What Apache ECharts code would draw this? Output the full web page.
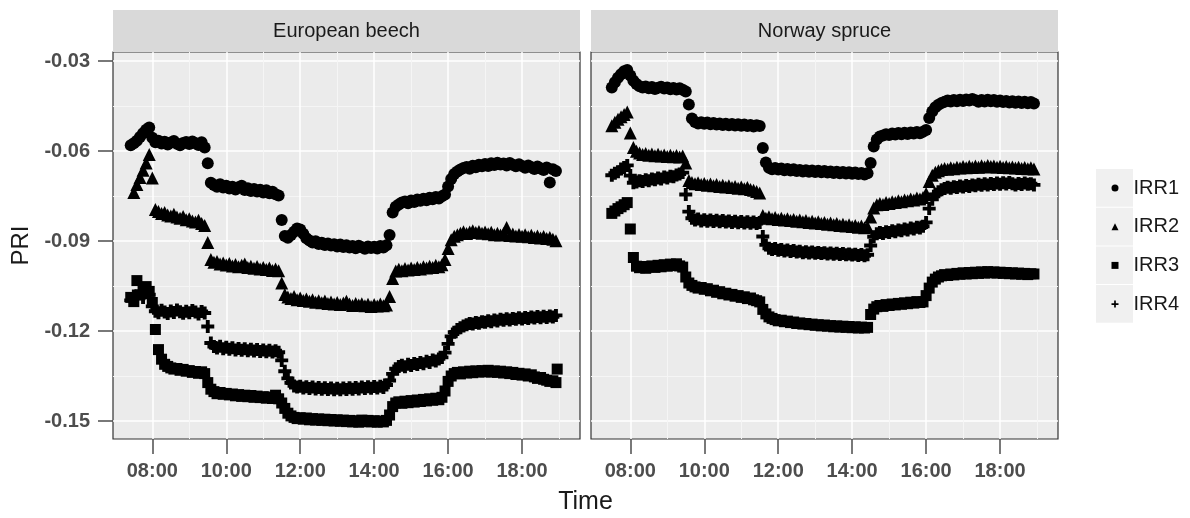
<!DOCTYPE html>
<html>
<head>
<meta charset="utf-8">
<script src="https://cdn.jsdelivr.net/npm/echarts@6/dist/echarts.min.js"></script>
<style>
  html, body { margin: 0; padding: 0; background: #ffffff; }
  #chart { width: 1190px; height: 518px; }
</style>
</head>
<body>
<div id="chart"></div>
<script>
// PRI readings sampled every 5 minutes from 07:25 to 18:55 (one row per hour).
const sampleStartHours = 7 + 25 / 60;
const sampleStepHours = 5 / 60;

const panels = ['European beech', 'Norway spruce'];
const seriesNames = ['IRR1', 'IRR2', 'IRR3', 'IRR4'];
const hourTicks = [8, 10, 12, 14, 16, 18];
const hourMinorTicks = [9, 11, 13, 15, 17, 19];
const priTicks = [-0.15, -0.12, -0.09, -0.06, -0.03];
const priMinorTicks = [-0.135, -0.105, -0.075, -0.045];

// European beech
const beechIRR1 = [
  -0.0581, -0.0574, -0.0566, -0.0553, -0.0541, -0.0529, -0.0522,
  -0.0556, -0.0571, -0.0566, -0.0575, -0.0569, -0.0578, -0.0572, -0.0567, -0.0576, -0.0581, -0.0573, -0.0570,
  -0.0577, -0.0568, -0.0574, -0.0580, -0.0571, -0.0588, -0.0641, -0.0706, -0.0713, -0.0719, -0.0711, -0.0722,
  -0.0716, -0.0725, -0.0719, -0.0728, -0.0721, -0.0716, -0.0730, -0.0724, -0.0733, -0.0727, -0.0735, -0.0729,
  -0.0738, -0.0731, -0.0741, -0.0736, -0.0744, -0.0748, -0.0830, -0.0883, -0.0889, -0.0880, -0.0869, -0.0858,
  -0.0862, -0.0876, -0.0891, -0.0898, -0.0905, -0.0901, -0.0910, -0.0906, -0.0913, -0.0908, -0.0915, -0.0911,
  -0.0918, -0.0912, -0.0920, -0.0914, -0.0922, -0.0917, -0.0924, -0.0916, -0.0921, -0.0926, -0.0918, -0.0923,
  -0.0919, -0.0925, -0.0917, -0.0922, -0.0914, -0.0880, -0.0805, -0.0786, -0.0778, -0.0772, -0.0768, -0.0774,
  -0.0765, -0.0770, -0.0762, -0.0766, -0.0759, -0.0764, -0.0756, -0.0761, -0.0753, -0.0758, -0.0751, -0.0745,
  -0.0718, -0.0693, -0.0677, -0.0668, -0.0662, -0.0657, -0.0653, -0.0659, -0.0649, -0.0654, -0.0646, -0.0651,
  -0.0643, -0.0650, -0.0641, -0.0647, -0.0639, -0.0645, -0.0642, -0.0648, -0.0640, -0.0646, -0.0651, -0.0644,
  -0.0650, -0.0656, -0.0648, -0.0654, -0.0660, -0.0652, -0.0658, -0.0663, -0.0655, -0.0705, -0.0661, -0.0667
];
const beechIRR2 = [
  null, -0.0738, -0.0712, -0.0688, -0.0664, -0.0640, -0.0612,
  -0.0690, -0.0795, -0.0802, -0.0808, -0.0805, -0.0813, -0.0817, -0.0811, -0.0820, -0.0824, -0.0818, -0.0829,
  -0.0826, -0.0833, -0.0837, -0.0831, -0.0842, -0.0848, -0.0905, -0.0962, -0.0971, -0.0968, -0.0977, -0.0973,
  -0.0980, -0.0975, -0.0983, -0.0978, -0.0986, -0.0981, -0.0977, -0.0988, -0.0984, -0.0991, -0.0985, -0.0993,
  -0.0988, -0.0995, -0.0990, -0.0998, -0.0993, -0.0999, -0.1040, -0.1078, -0.1087, -0.1092, -0.1085, -0.1096,
  -0.1090, -0.1098, -0.1093, -0.1101, -0.1096, -0.1104, -0.1099, -0.1106, -0.1100, -0.1108, -0.1103, -0.1110,
  -0.1105, -0.1112, -0.1107, -0.1101, -0.1110, -0.1115, -0.1108, -0.1113, -0.1109, -0.1116, -0.1111, -0.1118,
  -0.1112, -0.1117, -0.1110, -0.1116, -0.1113, -0.1085, -0.1025, -0.1000, -0.0994, -0.0999, -0.0992, -0.0997,
  -0.0990, -0.0995, -0.0988, -0.0993, -0.0986, -0.0990, -0.0984, -0.0988, -0.0981, -0.0986, -0.0979, -0.0962,
  -0.0925, -0.0896, -0.0884, -0.0879, -0.0874, -0.0869, -0.0875, -0.0870, -0.0866, -0.0872, -0.0868, -0.0874,
  -0.0870, -0.0876, -0.0871, -0.0879, -0.0874, -0.0880, -0.0875, -0.0855, -0.0882, -0.0877, -0.0883, -0.0878,
  -0.0884, -0.0879, -0.0886, -0.0881, -0.0888, -0.0883, -0.0890, -0.0885, -0.0892, -0.0888, -0.0894, -0.0899
];
const beechIRR3 = [
  -0.1088, -0.1102, -0.1032, -0.1079, -0.1061, -0.1052, -0.1068,
  -0.1105, -0.1195, -0.1262, -0.1294, -0.1311, -0.1318, -0.1323, -0.1327, -0.1325, -0.1331, -0.1328, -0.1334,
  -0.1332, -0.1338, -0.1335, -0.1341, -0.1336, -0.1342, -0.1372, -0.1394, -0.1402, -0.1409, -0.1405, -0.1411,
  -0.1408, -0.1413, -0.1410, -0.1416, -0.1412, -0.1418, -0.1414, -0.1419, -0.1415, -0.1421, -0.1417, -0.1422,
  -0.1419, -0.1424, -0.1420, -0.1425, -0.1414, -0.1426, -0.1440, -0.1458, -0.1474, -0.1483, -0.1488, -0.1492,
  -0.1489, -0.1494, -0.1490, -0.1496, -0.1492, -0.1497, -0.1493, -0.1498, -0.1494, -0.1499, -0.1495, -0.1500,
  -0.1496, -0.1501, -0.1497, -0.1502, -0.1498, -0.1503, -0.1499, -0.1504, -0.1497, -0.1502, -0.1498, -0.1503,
  -0.1499, -0.1504, -0.1500, -0.1503, -0.1498, -0.1480, -0.1452, -0.1440, -0.1436, -0.1441, -0.1434, -0.1439,
  -0.1432, -0.1437, -0.1430, -0.1435, -0.1428, -0.1433, -0.1426, -0.1431, -0.1424, -0.1429, -0.1421, -0.1400,
  -0.1368, -0.1350, -0.1342, -0.1338, -0.1343, -0.1336, -0.1340, -0.1334, -0.1339, -0.1333, -0.1337, -0.1332,
  -0.1336, -0.1331, -0.1337, -0.1333, -0.1338, -0.1334, -0.1340, -0.1336, -0.1342, -0.1338, -0.1345, -0.1341,
  -0.1347, -0.1343, -0.1350, -0.1346, -0.1353, -0.1358, -0.1355, -0.1361, -0.1364, -0.1368, -0.1366, -0.1372
];
const beechIRR3Extra = [[18.95, -0.1327]];
const beechIRR4 = [
  -0.1098, -0.1083, -0.1092, -0.1071, -0.1088, -0.1066, -0.1079,
  -0.1118, -0.1134, -0.1139, -0.1131, -0.1137, -0.1142, -0.1133, -0.1138, -0.1130, -0.1136, -0.1141, -0.1134,
  -0.1139, -0.1132, -0.1137, -0.1143, -0.1135, -0.1140, -0.1185, -0.1240, -0.1252, -0.1257, -0.1251, -0.1259,
  -0.1254, -0.1261, -0.1256, -0.1263, -0.1258, -0.1264, -0.1259, -0.1266, -0.1261, -0.1267, -0.1262, -0.1268,
  -0.1263, -0.1269, -0.1264, -0.1270, -0.1266, -0.1271, -0.1298, -0.1334, -0.1358, -0.1373, -0.1383, -0.1387,
  -0.1384, -0.1390, -0.1386, -0.1392, -0.1387, -0.1393, -0.1388, -0.1394, -0.1389, -0.1395, -0.1390, -0.1396,
  -0.1391, -0.1396, -0.1390, -0.1395, -0.1389, -0.1394, -0.1388, -0.1393, -0.1387, -0.1392, -0.1386, -0.1391,
  -0.1385, -0.1390, -0.1384, -0.1388, -0.1380, -0.1365, -0.1343, -0.1326, -0.1318, -0.1314, -0.1319, -0.1311,
  -0.1315, -0.1308, -0.1312, -0.1305, -0.1309, -0.1301, -0.1305, -0.1297, -0.1300, -0.1293, -0.1288, -0.1272,
  -0.1243, -0.1218, -0.1204, -0.1195, -0.1189, -0.1183, -0.1179, -0.1175, -0.1177, -0.1172, -0.1174, -0.1169,
  -0.1171, -0.1166, -0.1169, -0.1163, -0.1167, -0.1161, -0.1164, -0.1159, -0.1163, -0.1158, -0.1161, -0.1156,
  -0.1160, -0.1155, -0.1158, -0.1153, -0.1157, -0.1152, -0.1156, -0.1151, -0.1155, -0.1150, -0.1153, -0.1148
];

// Norway spruce
const spruceIRR1 = [
  null, -0.0388, -0.0371, -0.0356, -0.0344, -0.0334, -0.0330,
  -0.0348, -0.0366, -0.0377, -0.0384, -0.0388, -0.0385, -0.0391, -0.0387, -0.0393, -0.0389, -0.0386, -0.0392,
  -0.0388, -0.0394, -0.0390, -0.0395, -0.0391, -0.0396, -0.0402, -0.0445, -0.0492, -0.0503, -0.0508, -0.0504,
  -0.0509, -0.0505, -0.0511, -0.0507, -0.0512, -0.0508, -0.0513, -0.0509, -0.0514, -0.0510, -0.0515, -0.0511,
  -0.0516, -0.0512, -0.0517, -0.0513, -0.0518, -0.0514, -0.0517, -0.0590, -0.0638, -0.0656, -0.0661, -0.0657,
  -0.0662, -0.0658, -0.0664, -0.0660, -0.0665, -0.0661, -0.0667, -0.0663, -0.0668, -0.0664, -0.0669, -0.0665,
  -0.0670, -0.0666, -0.0671, -0.0667, -0.0672, -0.0668, -0.0673, -0.0669, -0.0674, -0.0670, -0.0675, -0.0671,
  -0.0676, -0.0672, -0.0677, -0.0673, -0.0678, -0.0674, -0.0640, -0.0585, -0.0562, -0.0552, -0.0548, -0.0544,
  -0.0547, -0.0542, -0.0545, -0.0540, -0.0544, -0.0539, -0.0543, -0.0538, -0.0542, -0.0537, -0.0541, -0.0536,
  -0.0530, -0.0490, -0.0468, -0.0454, -0.0446, -0.0440, -0.0436, -0.0432, -0.0435, -0.0430, -0.0434, -0.0429,
  -0.0433, -0.0428, -0.0432, -0.0427, -0.0431, -0.0436, -0.0430, -0.0435, -0.0429, -0.0434, -0.0430, -0.0436,
  -0.0432, -0.0437, -0.0433, -0.0438, -0.0434, -0.0439, -0.0435, -0.0440, -0.0436, -0.0441, -0.0437, -0.0442
];
const spruceIRR2 = [
  null, -0.0516, -0.0504, -0.0494, -0.0486, -0.0478, -0.0470,
  -0.0540, -0.0588, -0.0601, -0.0607, -0.0612, -0.0608, -0.0614, -0.0610, -0.0616, -0.0611, -0.0617, -0.0613,
  -0.0618, -0.0614, -0.0619, -0.0615, -0.0620, -0.0617, -0.0640, -0.0698, -0.0705, -0.0709, -0.0706, -0.0712,
  -0.0708, -0.0714, -0.0710, -0.0716, -0.0712, -0.0718, -0.0714, -0.0720, -0.0716, -0.0722, -0.0718, -0.0724,
  -0.0720, -0.0726, -0.0722, -0.0728, -0.0731, -0.0735, -0.0740, -0.0815, -0.0824, -0.0819, -0.0826, -0.0822,
  -0.0828, -0.0824, -0.0830, -0.0826, -0.0832, -0.0828, -0.0834, -0.0830, -0.0836, -0.0832, -0.0838, -0.0834,
  -0.0840, -0.0836, -0.0842, -0.0838, -0.0844, -0.0840, -0.0846, -0.0842, -0.0848, -0.0844, -0.0850, -0.0846,
  -0.0852, -0.0848, -0.0854, -0.0850, -0.0856, -0.0853, -0.0820, -0.0790, -0.0779, -0.0775, -0.0778, -0.0772,
  -0.0775, -0.0769, -0.0772, -0.0766, -0.0769, -0.0763, -0.0766, -0.0760, -0.0763, -0.0757, -0.0760, -0.0755,
  -0.0742, -0.0702, -0.0681, -0.0671, -0.0666, -0.0662, -0.0658, -0.0661, -0.0656, -0.0659, -0.0654, -0.0657,
  -0.0652, -0.0656, -0.0651, -0.0655, -0.0650, -0.0654, -0.0649, -0.0653, -0.0648, -0.0652, -0.0650, -0.0654,
  -0.0651, -0.0655, -0.0652, -0.0656, -0.0653, -0.0657, -0.0654, -0.0658, -0.0655, -0.0659, -0.0656, -0.0660
];
const spruceIRR3 = [
  null, -0.0808, -0.0800, -0.0792, -0.0786, -0.0779, -0.0772,
  -0.0860, -0.0955, -0.0984, -0.0989, -0.0985, -0.0991, -0.0986, -0.0983, -0.0988, -0.0981, -0.0986, -0.0979,
  -0.0984, -0.0977, -0.0982, -0.0976, -0.0983, -0.0987, -0.1020, -0.1040, -0.1048, -0.1053, -0.1057, -0.1055,
  -0.1061, -0.1059, -0.1066, -0.1064, -0.1071, -0.1069, -0.1076, -0.1074, -0.1080, -0.1078, -0.1084, -0.1082,
  -0.1088, -0.1086, -0.1092, -0.1090, -0.1096, -0.1099, -0.1103, -0.1128, -0.1143, -0.1153, -0.1158, -0.1162,
  -0.1166, -0.1164, -0.1169, -0.1167, -0.1172, -0.1170, -0.1175, -0.1173, -0.1177, -0.1175, -0.1179, -0.1177,
  -0.1181, -0.1179, -0.1183, -0.1180, -0.1184, -0.1182, -0.1186, -0.1183, -0.1187, -0.1184, -0.1188, -0.1185,
  -0.1189, -0.1186, -0.1190, -0.1187, -0.1190, -0.1188, -0.1145, -0.1127, -0.1119, -0.1115, -0.1118, -0.1112,
  -0.1115, -0.1110, -0.1113, -0.1108, -0.1111, -0.1106, -0.1109, -0.1104, -0.1107, -0.1102, -0.1105, -0.1103,
  -0.1082, -0.1057, -0.1037, -0.1027, -0.1020, -0.1016, -0.1012, -0.1015, -0.1010, -0.1013, -0.1008, -0.1011,
  -0.1006, -0.1010, -0.1005, -0.1009, -0.1004, -0.1008, -0.1003, -0.1007, -0.1002, -0.1006, -0.1003, -0.1007,
  -0.1004, -0.1008, -0.1005, -0.1009, -0.1006, -0.1010, -0.1007, -0.1011, -0.1008, -0.1012, -0.1009, -0.1010
];
const spruceIRR4 = [
  null, -0.0681, -0.0674, -0.0669, -0.0660, -0.0655, -0.0648,
  -0.0682, -0.0706, -0.0703, -0.0699, -0.0702, -0.0696, -0.0699, -0.0693, -0.0696, -0.0690, -0.0693, -0.0687,
  -0.0690, -0.0684, -0.0686, -0.0680, -0.0677, -0.0672, -0.0745, -0.0802, -0.0824, -0.0830, -0.0827, -0.0833,
  -0.0829, -0.0834, -0.0830, -0.0835, -0.0831, -0.0836, -0.0832, -0.0837, -0.0833, -0.0838, -0.0834, -0.0839,
  -0.0835, -0.0840, -0.0836, -0.0841, -0.0837, -0.0842, -0.0838, -0.0885, -0.0913, -0.0924, -0.0928, -0.0925,
  -0.0931, -0.0928, -0.0933, -0.0930, -0.0935, -0.0932, -0.0937, -0.0934, -0.0939, -0.0936, -0.0940, -0.0937,
  -0.0941, -0.0938, -0.0942, -0.0939, -0.0943, -0.0940, -0.0944, -0.0941, -0.0945, -0.0942, -0.0946, -0.0943,
  -0.0947, -0.0944, -0.0948, -0.0945, -0.0949, -0.0946, -0.0915, -0.0886, -0.0876, -0.0872, -0.0875, -0.0869,
  -0.0872, -0.0866, -0.0869, -0.0863, -0.0866, -0.0860, -0.0863, -0.0857, -0.0860, -0.0854, -0.0857, -0.0851,
  -0.0838, -0.0792, -0.0761, -0.0745, -0.0736, -0.0729, -0.0725, -0.0721, -0.0724, -0.0719, -0.0722, -0.0717,
  -0.0720, -0.0715, -0.0718, -0.0713, -0.0716, -0.0711, -0.0714, -0.0709, -0.0713, -0.0708, -0.0712, -0.0707,
  -0.0711, -0.0706, -0.0710, -0.0705, -0.0709, -0.0713, -0.0708, -0.0712, -0.0707, -0.0711, -0.0709, -0.0713
];

const panelSeries = [
  [beechIRR1, beechIRR2, beechIRR3, beechIRR4],
  [spruceIRR1, spruceIRR2, spruceIRR3, spruceIRR4]
];
const panelExtras = [
  [[], [], beechIRR3Extra, []],
  [[], [], [], []]
];

// Point shapes: filled circle, filled triangle, filled square, plus
const PLUS = 'path://M-1.5,-5H1.5V-1.5H5V1.5H1.5V5H-1.5V1.5H-5V-1.5H-1.5Z';
const LEGEND_PLUS = 'path://M-1.2,-5H1.2V-1.2H5V1.2H1.2V5H-1.2V1.2H-5V-1.2H-1.2Z';
const shapes = ['circle', 'triangle', 'rect', PLUS];
const shapeSizes = [12, 13, 11, 13];

function toPoints(values, extra) {
  const pts = [];
  values.forEach(function (v, i) {
    if (v !== null) pts.push([sampleStartHours + i * sampleStepHours, v]);
  });
  return pts.concat(extra);
}

const FONT = 'Liberation Sans, Arial, sans-serif';
const TICK_COLOR = '#4D4D4D';
const X_MIN = 6.937, X_MAX = 19.567;
const Y_MIN = -0.156, Y_MAX = -0.027;

const gridBoxes = [
  { left: 113, top: 52, width: 467, height: 387 },
  { left: 591, top: 52, width: 467, height: 387 }
];

const grids = gridBoxes.map(function (b) {
  return {
    left: b.left, top: b.top, width: b.width, height: b.height,
    show: true, backgroundColor: '#EBEBEB', borderColor: '#333333', borderWidth: 1.2
  };
});

const xAxes = [], yAxes = [];
gridBoxes.forEach(function (b, g) {
  // major axis: ticks, labels and white major grid lines
  xAxes.push({
    type: 'value', gridIndex: g, min: X_MIN, max: X_MAX,
    axisLine: { show: false },
    axisTick: { show: true, length: 15, customValues: hourTicks, lineStyle: { color: TICK_COLOR, width: 1.5 } },
    axisLabel: {
      customValues: hourTicks, margin: 22, fontSize: 20, fontWeight: 'bold', color: TICK_COLOR, fontFamily: FONT,
      formatter: function (v) { return (v < 10 ? '0' : '') + v + ':00'; }
    },
    splitLine: { show: true, lineStyle: { color: '#FFFFFF', width: 1.5 } }
  });
  // minor grid lines at odd hours
  xAxes.push({
    type: 'value', gridIndex: g, min: X_MIN, max: X_MAX,
    axisLine: { show: false },
    axisTick: { show: false, customValues: hourMinorTicks },
    axisLabel: { show: false },
    splitLine: { show: true, lineStyle: { color: '#F5F5F5', width: 1 } }
  });
  yAxes.push({
    type: 'value', gridIndex: g, min: Y_MIN, max: Y_MAX,
    name: g === 0 ? 'PRI' : '', nameLocation: 'middle', nameRotate: 90, nameGap: 80,
    nameTextStyle: { fontSize: 24, color: '#1A1A1A', fontFamily: FONT },
    axisLine: { show: false },
    axisTick: { show: g === 0, length: 15, customValues: priTicks, lineStyle: { color: TICK_COLOR, width: 1.5 } },
    axisLabel: {
      show: g === 0, customValues: priTicks, margin: 23, fontSize: 20, fontWeight: 'bold', color: TICK_COLOR, fontFamily: FONT,
      formatter: function (v) { return v.toFixed(2); }
    },
    splitLine: { show: true, lineStyle: { color: '#FFFFFF', width: 1.5 } }
  });
  yAxes.push({
    type: 'value', gridIndex: g, min: Y_MIN, max: Y_MAX,
    axisLine: { show: false },
    axisTick: { show: false, customValues: priMinorTicks },
    axisLabel: { show: false },
    splitLine: { show: true, lineStyle: { color: '#F5F5F5', width: 1 } }
  });
});

const series = [];
panelSeries.forEach(function (group, g) {
  group.forEach(function (values, k) {
    series.push({
      type: 'scatter', name: seriesNames[k],
      xAxisIndex: g * 2, yAxisIndex: g * 2,
      symbol: shapes[k], symbolSize: shapeSizes[k], symbolKeepAspect: true,
      itemStyle: { color: '#000000', opacity: 1 },
      emphasis: { disabled: true },
      silent: true,
      data: toPoints(values, panelExtras[g][k])
    });
  });
});

// facet strips and legend key backgrounds
const graphics = [];
gridBoxes.forEach(function (b, g) {
  graphics.push({
    type: 'rect', shape: { x: b.left, y: 10, width: b.width, height: 42 },
    style: { fill: '#D9D9D9' }, silent: true
  });
  graphics.push({
    type: 'text', x: b.left + b.width / 2, y: 31,
    style: { text: panels[g], fill: '#1A1A1A', font: '20px ' + FONT, align: 'center', verticalAlign: 'middle' },
    silent: true
  });
});
seriesNames.forEach(function (n, k) {
  graphics.push({
    type: 'rect', shape: { x: 1096, y: 169 + k * 38.7, width: 37, height: 37.7 },
    style: { fill: '#F0F0F0' }, silent: true, z: -1
  });
});
graphics.push({
  type: 'text', x: 585.5, y: 502,
  style: { text: 'Time', fill: '#1A1A1A', font: '25px ' + FONT, align: 'center', verticalAlign: 'middle' },
  silent: true
});

const legendIcons = ['circle', 'triangle', 'rect', LEGEND_PLUS];

const chart = echarts.init(document.getElementById('chart'), null, { renderer: 'canvas' });
chart.setOption({
  animation: false,
  backgroundColor: '#FFFFFF',
  textStyle: { fontFamily: FONT },
  grid: grids,
  xAxis: xAxes,
  yAxis: yAxes,
  legend: {
    orient: 'vertical', left: 1111.5, top: 178, padding: 0,
    itemWidth: 7, itemHeight: 7, itemGap: 18.7,
    data: seriesNames.map(function (n, k) { return { name: n, icon: legendIcons[k] }; }),
    textStyle: { fontSize: 20, color: '#1A1A1A', fontFamily: FONT, padding: [0, 0, 0, 10] },
    selectedMode: false
  },
  graphic: graphics,
  series: series
});
</script>
</body>
</html>
